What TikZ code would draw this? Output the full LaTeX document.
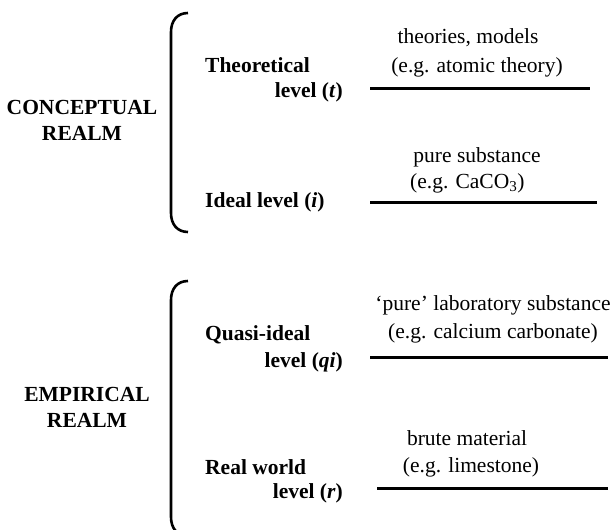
\documentclass[tikz,border=0pt]{standalone}
\usepackage{fontspec}
\setmainfont{Liberation Serif}
\usetikzlibrary{positioning,calc}
\newcommand\linew{3pt}
\newcommand\drawrealm[2]{
  % curly bracket, top end at #1, bottom end at #2
  \draw[bracket] (#1) .. controls +(-11,0) and +(0,-11) .. ++(-17,19)
    -- ($(#2)+(-17,-19)$) .. controls +(0,11) and +(-11,0) .. (#2);
}

\begin{document}
\begin{tikzpicture}[
    x=1pt,y=-1pt,
    every node/.style={font=\fontsize{21.5}{25}\selectfont,inner sep=0pt},
    realm/.style={font=\fontsize{21.5}{26}\selectfont\bfseries,align=center},
    level/.style={font=\fontsize{21.5}{25}\selectfont\bfseries},
    bracket/.style={line width=2.6pt},
    sepline/.style={line width=\linew}
  ]
    \useasboundingbox (0,0) rectangle (614,530);

    % conceptual realm
    \node[realm] (conc) at (82,120) {CONCEPTUAL\\REALM};
    \coordinate (B1t) at (188,13);
    \coordinate (B1b) at (188,232);
    \drawrealm{B1t}{B1b}

    \node[level,anchor=west] (theo) at (205,65) {Theoretical};
    \node[level,anchor=east] (theol) at (343,92) {level (\textit{t})};
    \node[level,anchor=west] (ideal) at (205,202) {Ideal level (\textit{i})};

    \node (theox1) at (468,38) {theories, models};
    \node (theox2) at (477,67) {(e.g. atomic theory)};
    \draw[sepline] (370,88) coordinate (L1a) -- (590,88) coordinate (L1b);

    \node (idealx1) at (477,157) {pure substance};
    \node[anchor=west] (idealx2) at (410,183) {(e.g. CaCO\textsubscript{3})};
    \draw[sepline] (370,202) coordinate (L2a) -- (597,202) coordinate (L2b);

    % empirical realm
    \node[realm] (emp) at (87,407) {EMPIRICAL\\REALM};
    \coordinate (B2t) at (188,281);
    \coordinate (B2b) at (188,536);
    \drawrealm{B2t}{B2b}

    \node[level,anchor=west] (quasi) at (205,335) {Quasi-ideal};
    \node[level,anchor=east] (quasil) at (343,362) {level (\textit{qi})};
    \node[level,anchor=west] (real) at (205,467) {Real world};
    \node[level,anchor=east] (reall) at (343,493) {level (\textit{r})};

    \node (quasix1) at (493,305) {`pure' laboratory substance};
    \node (quasix2) at (493,333) {(e.g. calcium carbonate)};
    \draw[sepline] (370,357) coordinate (L3a) -- (608,357) coordinate (L3b);

    \node (realx1) at (467,438) {brute material};
    \node (realx2) at (471,467) {(e.g. limestone)};
    \draw[sepline] (377,488) coordinate (L4a) -- (608,488) coordinate (L4b);
\end{tikzpicture}
\end{document}
